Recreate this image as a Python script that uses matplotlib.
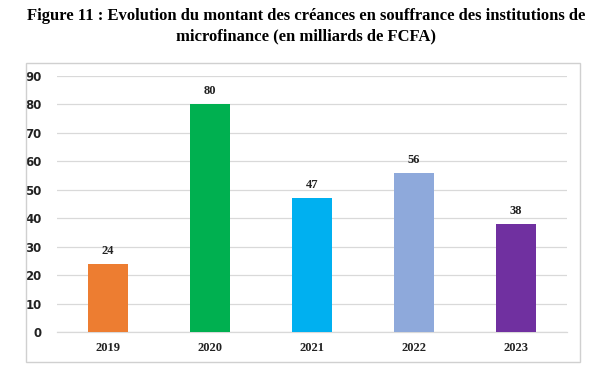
import matplotlib
matplotlib.use("Agg")
import matplotlib.pyplot as plt
from matplotlib.patches import Rectangle

years = ["2019", "2020", "2021", "2022", "2023"]
values = [24, 80, 47, 56, 38]
colors = ["#ED7D31", "#00B050", "#00B0F0", "#8EA9DB", "#7030A0"]
yticks = [0, 10, 20, 30, 40, 50, 60, 70, 80, 90]
title = "Figure 11 : Evolution du montant des créances en souffrance des institutions de\nmicrofinance (en milliards de FCFA)"

W, H = 600, 372
fig = plt.figure(figsize=(W/100, H/100), dpi=100)
fig.patch.set_facecolor("white")

# outer chart border
fig.add_artist(Rectangle((26/W, 1-362/H), (580-26)/W, (362-63)/H,
                         transform=fig.transFigure, fill=False,
                         edgecolor="#D0D0D0", linewidth=1.0))

fig.text(306/W, 1-8/H, title, ha="center", va="top", fontsize=12,
         fontweight="bold", family="Liberation Serif", linespacing=1.4)

ax = fig.add_axes([57/W, 1-332/H, (567-57)/W, (332-76)/H])
x = range(len(years))
bars = ax.bar(x, values, width=0.39, color=colors, zorder=3)
ax.set_xlim(-0.5, len(years)-0.5)
ax.set_ylim(0, 90)
ax.set_yticks(yticks)
ax.set_yticklabels([str(t) for t in yticks], fontsize=8.5, fontweight="bold",
                   family="DejaVu Sans", color="#222222")
ax.set_xticks(list(x))
ax.set_xticklabels(years, fontsize=9, fontweight="bold", family="Liberation Serif",
                   color="#222222")
ax.tick_params(axis="both", length=0)
ax.tick_params(axis="y", pad=11)
ax.tick_params(axis="x", pad=7)
ax.grid(axis="y", color="#D9D9D9", linewidth=0.9, zorder=0)
for s in ["top", "right", "left"]:
    ax.spines[s].set_visible(False)
ax.spines["bottom"].set_color("#D9D9D9")
ax.spines["bottom"].set_linewidth(0.9)

for xi, v in zip(x, values):
    ax.annotate(str(v), (xi, v), xytext=(0, 5), textcoords="offset points",
                ha="center", va="bottom", fontsize=9, fontweight="bold",
                family="Liberation Serif", color="#222222")

fig.savefig("out.png", dpi=100)
